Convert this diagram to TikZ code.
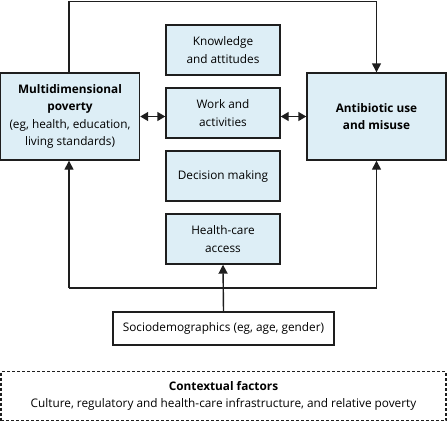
\documentclass[tikz,border=0pt]{standalone}
\usepackage{fontspec}
\setmainfont{Open Sans}
\usetikzlibrary{arrows.meta}
\definecolor{boxblue}{RGB}{221,238,246}
\definecolor{linegray}{RGB}{30,30,30}
\tikzset{
  txt/.style={font=\fontsize{11.8}{17.6}\selectfont},
  bluebox/.style={draw=linegray, line width=1.4pt, fill=boxblue, align=center, inner sep=2pt, txt},
  whitebox/.style={draw=linegray, line width=1.4pt, fill=white, align=center, inner sep=2pt, txt},
  conn/.style={draw=linegray, line width=1.4pt},
  arr/.style={conn, -{Triangle[length=9pt,width=9pt]}},
  biarr/.style={conn, {Triangle[length=8pt,width=9pt]}-{Triangle[length=8pt,width=9pt]}},
}
\begin{document}
\begin{tikzpicture}[x=1pt,y=-1pt]
\useasboundingbox (0,0) rectangle (447,421);
\node[bluebox, minimum width=139pt, minimum height=87pt] (pov) at (70,116.5)
  {\textbf{Multidimensional}\\\textbf{poverty}\\(eg, health, education,\\living standards)};
\node[bluebox, minimum width=139pt, minimum height=87pt] (abx) at (376.5,116.5)
  {\textbf{Antibiotic use}\\\textbf{and misuse}};
\node[bluebox, minimum width=114pt, minimum height=50pt] (know) at (223,50)
  {Knowledge\\and attitudes};
\node[bluebox, minimum width=114pt, minimum height=50pt] (work) at (223,113)
  {Work and\\activities};
\node[bluebox, minimum width=114pt, minimum height=50pt] (dec) at (223,176)
  {Decision making};
\node[bluebox, minimum width=114pt, minimum height=50pt] (hca) at (223,239)
  {Health-care\\access};
\node[whitebox, minimum width=221pt, minimum height=33pt] (soc) at (223.5,328.5)
  {Sociodemographics (eg, age, gender)};
\node[draw=linegray, line width=1.2pt, dash pattern=on 3pt off 2pt, minimum width=445pt, minimum height=49pt,
  align=center, inner sep=2pt, txt] (ctx) at (223.5,396)
  {\textbf{Contextual factors}\\Culture, regulatory and health-care infrastructure, and relative poverty};
% coordinates
\coordinate (tl) at (69,1.2);
\coordinate (tr) at (376.5,1.2);
\coordinate (bl) at (69,288);
\coordinate (br) at (376.5,288);
% top loop
\draw[arr] (pov.north -| tl) -- (tl) -- (tr) -- (abx.north);
% bottom enclosure
\draw[arr] (bl) -- (pov.south -| bl);
\draw[arr] (br) -- (abx.south);
\draw[conn] (bl) -- (br);
\draw[arr] (soc.north) -- (hca.south);
% bidirectional
\draw[biarr] (pov.east) -- (pov.east -| work.west);
\draw[biarr] (pov.east -| work.east) -- (abx.west);
\end{tikzpicture}
\end{document}
